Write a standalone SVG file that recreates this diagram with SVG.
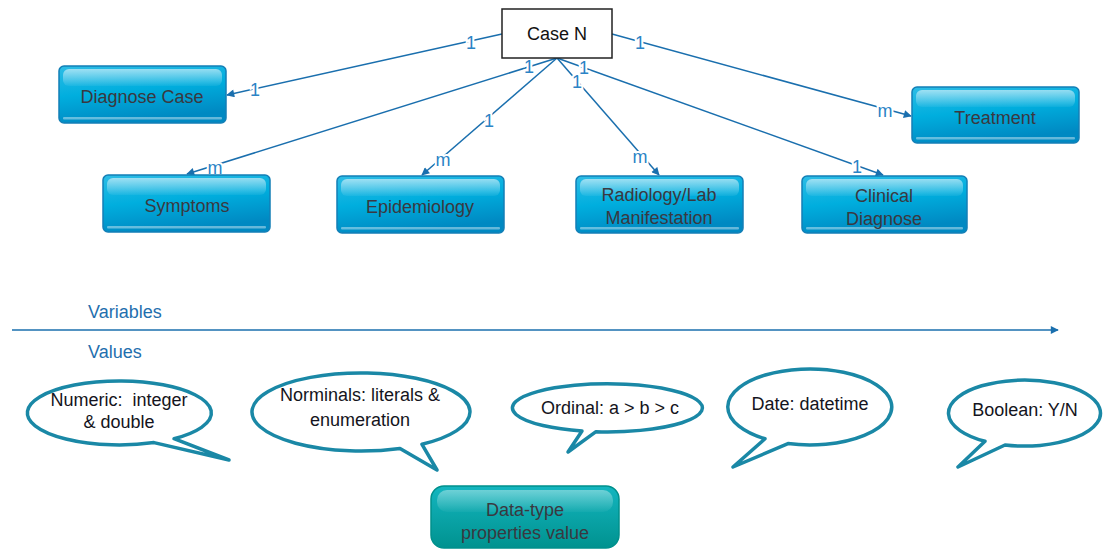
<svg xmlns="http://www.w3.org/2000/svg" width="1105" height="549" viewBox="0 0 1105 549">
<defs>
<style>
.node text{font-family:"Liberation Sans",Arial,sans-serif;font-size:18px;fill:#3a3840;text-anchor:middle}
.body{fill:url(#bodyG);stroke:#137fb6;stroke-width:1.5}
.hi{fill:url(#hiG)}
.lo{fill:#ffffff;fill-opacity:0.4}
.conn line{stroke:#1a6fae;stroke-width:1.5;fill:none}
.card{font-family:"Liberation Sans",Arial,sans-serif;font-size:18px;fill:#2b84c6;stroke:#ffffff;stroke-width:4;paint-order:stroke;text-anchor:middle}
.axis{font-family:"Liberation Sans",Arial,sans-serif;font-size:18px;fill:#1f6fae}
.bub path{fill:#ffffff;stroke:#1a88a6;stroke-width:3.5;stroke-linejoin:round}
.bub text{font-family:"Liberation Sans",Arial,sans-serif;font-size:18px;fill:#141420;text-anchor:middle;white-space:pre}
</style>
<linearGradient id="bodyG" x1="0" y1="0" x2="0.3" y2="1">
<stop offset="0" stop-color="#2dbde6"/>
<stop offset="0.5" stop-color="#00aede"/>
<stop offset="1" stop-color="#0089c2"/>
</linearGradient>
<linearGradient id="hiG" x1="0" y1="0" x2="0" y2="1">
<stop offset="0" stop-color="#ffffff" stop-opacity="0.55"/>
<stop offset="1" stop-color="#ffffff" stop-opacity="0.05"/>
</linearGradient>
<linearGradient id="tealG" x1="0" y1="0" x2="0" y2="1">
<stop offset="0" stop-color="#14b6c0"/>
<stop offset="1" stop-color="#00928f"/>
</linearGradient>
<marker id="arr" viewBox="0 0 10 10" refX="9" refY="5" markerWidth="9" markerHeight="8" markerUnits="userSpaceOnUse" orient="auto">
<path d="M0,0 L10,5 L0,10 z" fill="#1a6fae"/>
</marker>
</defs>
<rect width="1105" height="549" fill="#ffffff"/>

<g id="connectors" class="conn">
<line x1="502" y1="34" x2="227" y2="95" marker-end="url(#arr)"/>
<line x1="557" y1="58" x2="187" y2="174" marker-end="url(#arr)"/>
<line x1="557" y1="58" x2="422" y2="175" marker-end="url(#arr)"/>
<line x1="557" y1="58" x2="659" y2="175" marker-end="url(#arr)"/>
<line x1="557" y1="58" x2="883" y2="175" marker-end="url(#arr)"/>
<line x1="612" y1="34" x2="911" y2="116" marker-end="url(#arr)"/>
<text class="card" x="471" y="49">1</text>
<text class="card" x="255" y="96">1</text>
<text class="card" x="529" y="73">1</text>
<text class="card" x="215" y="174">m</text>
<text class="card" x="489" y="127">1</text>
<text class="card" x="443" y="166">m</text>
<text class="card" x="577" y="88">1</text>
<text class="card" x="640" y="163">m</text>
<text class="card" x="584" y="74">1</text>
<text class="card" x="857" y="173">1</text>
<text class="card" x="640" y="49">1</text>
<text class="card" x="885" y="117">m</text>
</g>

<g id="caseN" class="node">
<rect x="502" y="9" width="110" height="49" fill="#ffffff" stroke="#222222" stroke-width="1.5"/>
<text x="557" y="40" style="fill:#111111">Case N</text>
</g>

<g id="diagnoseCase" class="node">
<rect class="body" x="59" y="66" width="167" height="57" rx="5"/>
<rect class="hi" x="63" y="69" width="159" height="17" rx="6"/>
<rect class="lo" x="63" y="117" width="159" height="2.5" rx="1"/>
<text x="142" y="103">Diagnose Case</text>
</g>

<g id="treatment" class="node">
<rect class="body" x="912" y="87" width="167" height="56" rx="5"/>
<rect class="hi" x="916" y="90" width="159" height="17" rx="6"/>
<rect class="lo" x="916" y="137" width="159" height="2.5" rx="1"/>
<text x="995" y="124">Treatment</text>
</g>

<g id="symptoms" class="node">
<rect class="body" x="103" y="175" width="167" height="57" rx="5"/>
<rect class="hi" x="107" y="178" width="159" height="17" rx="6"/>
<rect class="lo" x="107" y="226" width="159" height="2.5" rx="1"/>
<text x="187" y="212">Symptoms</text>
</g>

<g id="epidemiology" class="node">
<rect class="body" x="337" y="176" width="167" height="57" rx="5"/>
<rect class="hi" x="341" y="179" width="159" height="17" rx="6"/>
<rect class="lo" x="341" y="227" width="159" height="2.5" rx="1"/>
<text x="420" y="213">Epidemiology</text>
</g>

<g id="radiology" class="node">
<rect class="body" x="576" y="176" width="167" height="57" rx="5"/>
<rect class="hi" x="580" y="179" width="159" height="17" rx="6"/>
<rect class="lo" x="580" y="227" width="159" height="2.5" rx="1"/>
<text x="659" y="201">Radiology/Lab</text>
<text x="659" y="224">Manifestation</text>
</g>

<g id="clinical" class="node">
<rect class="body" x="802" y="176" width="165" height="57" rx="5"/>
<rect class="hi" x="806" y="179" width="157" height="17" rx="6"/>
<rect class="lo" x="806" y="227" width="157" height="2.5" rx="1"/>
<text x="884" y="202">Clinical</text>
<text x="884" y="225">Diagnose</text>
</g>

<g id="axis">
<line x1="12" y1="330" x2="1058" y2="330" stroke="#1a6fae" stroke-width="1.5" marker-end="url(#arr)"/>
<text class="axis" x="88" y="318">Variables</text>
<text class="axis" x="88" y="358">Values</text>
</g>

<g id="numeric" class="bub">
<path d="M174,438.7 A92 32 0 1 0 154,442.6 L229,460 Z"/>
<text x="119" y="406">Numeric:  integer</text>
<text x="119" y="428">&amp; double</text>
</g>

<g id="norminals" class="bub">
<path d="M422,444.3 A109 39 0 1 0 400,448.4 L437,470 Z"/>
<text x="360" y="401">Norminals: literals &amp;</text>
<text x="360" y="426">enumeration</text>
</g>

<g id="ordinal" class="bub">
<path d="M596,431.7 A95 24 0 1 0 582,431 L568,452 Z"/>
<text x="610" y="414">Ordinal: a &gt; b &gt; c</text>
</g>

<g id="date" class="bub">
<path d="M788,443.6 A82 38 0 1 0 765,438.8 L733,467 Z"/>
<text x="810" y="410">Date: datetime</text>
</g>

<g id="boolean" class="bub">
<path d="M1005,445 A76 33 0 1 0 985,441.3 L958,467 Z"/>
<text x="1025" y="416">Boolean: Y/N</text>
</g>

<g id="dataType" class="node">
<rect x="431" y="486" width="188" height="62" rx="13" fill="url(#tealG)" stroke="#00908c" stroke-width="1.5"/>
<rect x="437" y="490" width="176" height="22" rx="10" fill="url(#hiG)" opacity="0.7"/>
<text x="525" y="516">Data-type</text>
<text x="525" y="539">properties value</text>
</g>
</svg>
